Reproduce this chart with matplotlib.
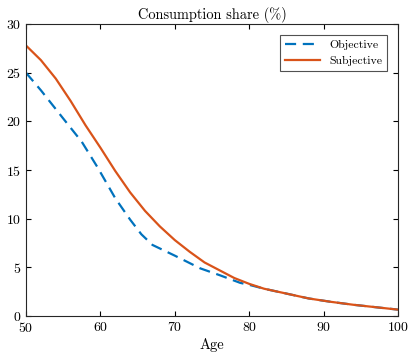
import matplotlib
matplotlib.use('Agg')
import matplotlib.pyplot as plt

age_obj = [50, 52, 55, 57.5, 59.6, 62, 64, 65.5, 67, 70, 73.4, 76, 78.8, 80, 82, 85, 88, 91, 94, 97, 100]
share_obj = [25.0, 23.2, 20.3, 17.9, 15.3, 12.1, 9.9, 8.4, 7.3, 6.2, 4.9, 4.2, 3.4, 3.2, 2.8, 2.3, 1.8, 1.45, 1.15, 0.9, 0.65]

age_subj = [50, 52, 54, 56, 58, 60, 62, 64, 66, 68, 70, 72, 74, 76, 78, 80, 82, 85, 88, 91, 94, 97, 100]
share_subj = [27.8, 26.3, 24.4, 22.1, 19.6, 17.3, 14.9, 12.7, 10.8, 9.2, 7.8, 6.6, 5.5, 4.7, 3.9, 3.3, 2.8, 2.3, 1.8, 1.45, 1.15, 0.9, 0.65]

plt.rcParams.update({
    'font.family': 'cmr10', 'font.size': 10,
    'axes.formatter.use_mathtext': True,
    'xtick.direction': 'in', 'ytick.direction': 'in',
    'xtick.top': True, 'ytick.right': True,
    'axes.edgecolor': '#262626', 'axes.linewidth': 0.8,
})

fig = plt.figure(figsize=(4.09, 3.55), dpi=100)
ax = fig.add_axes([0.0636, 0.110, 0.9094, 0.822])

ax.plot(age_obj, share_obj, color='#0072BD', linewidth=1.6, linestyle=(0, (5, 3)), label='Objective')
ax.plot(age_subj, share_subj, color='#D95319', linewidth=1.6, label='Subjective')

ax.set_xlim(50, 100); ax.set_ylim(0, 30)
ax.set_xticks(range(50, 101, 10)); ax.set_yticks(range(0, 31, 5))
ax.set_xlabel('Age', labelpad=2, fontsize=10.5)
ax.set_title('Consumption share (%)', pad=4, fontsize=10.4)
leg = ax.legend(loc='upper right', fancybox=False, edgecolor='#262626', fontsize=8.5,
                handlelength=3, borderaxespad=0.9)
leg.get_frame().set_linewidth(0.8)

plt.savefig('out.png', dpi=100)
